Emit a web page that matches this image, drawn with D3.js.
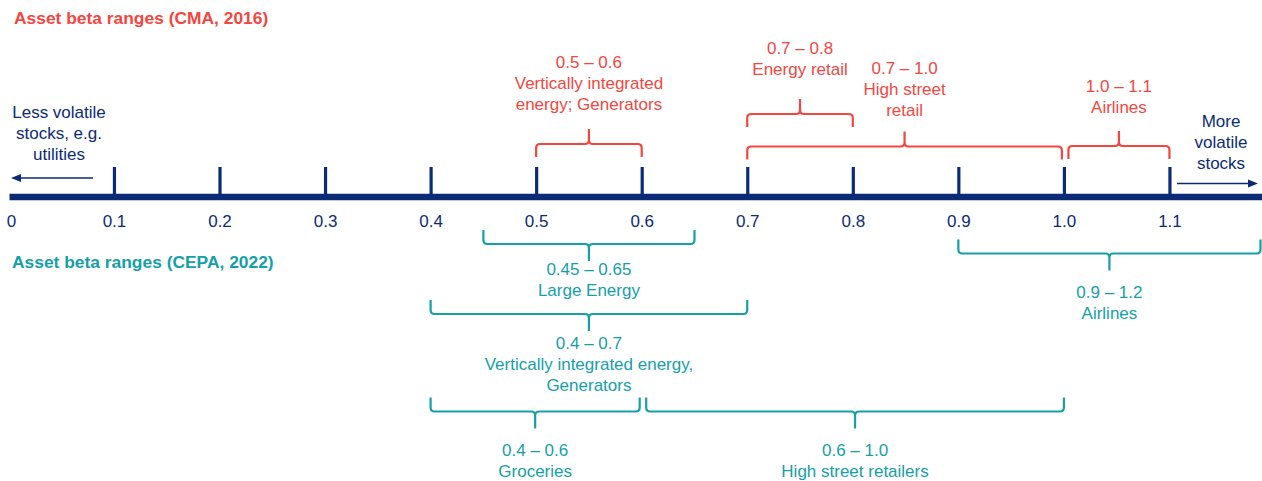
<!DOCTYPE html>
<html>
<head>
<meta charset="utf-8">
<script src="https://d3js.org/d3.v7.min.js"></script>
<style>
  body { margin: 0; background: #fff; }
  text { font-family: "Liberation Sans", Arial, sans-serif; }
</style>
</head>
<body>
<svg id="chart" width="1262" height="481"></svg>
<script>
// ---- data ----
var tickValues = [0, 0.1, 0.2, 0.3, 0.4, 0.5, 0.6, 0.7, 0.8, 0.9, 1.0, 1.1];

var cmaLow  = [0.5, 0.7, 0.7, 1.0];
var cmaHigh = [0.6, 0.8, 1.0, 1.1];
var cmaNames = [["Vertically integrated", "energy; Generators"], ["Energy retail"], ["High street", "retail"], ["Airlines"]];

var cepaLow  = [0.45, 0.4, 0.4, 0.6, 0.9];
var cepaHigh = [0.65, 0.7, 0.6, 1.0, 1.2];
var cepaNames = [["Large Energy"], ["Vertically integrated energy,", "Generators"], ["Groceries"], ["High street retailers"], ["Airlines"]];

// ---- layout (rows of the braces, px) ----
var cmaBraceY  = [144, 114, 146.5, 146];
var cmaTextY   = [62, 47.5, 67.5, 86];
var cepaBraceY = [244, 314, 411.5, 411.5, 253.5];
var cepaTextY  = [269, 342.5, 450, 450, 291.5];

var width = 1262, height = 481;
var axisY = 197;
var navy = "#0c2b77", red = "#f4463f", teal = "#15a0a8";
var fs = 17, lineH = 21;

var svg = d3.select("#chart");

var x = d3.scaleLinear().domain([0, 1]).range([8.4, 1063.9]);

var fmtRange = function(v) {
  return Math.round(v * 100) % 10 ? v.toFixed(2) : v.toFixed(1);
};

// titles
svg.append("text").attr("x", 14).attr("y", 24)
  .attr("fill", red).attr("font-size", 17.4).attr("font-weight", "bold")
  .text("Asset beta ranges (CMA, 2016)");
svg.append("text").attr("x", 12).attr("y", 268)
  .attr("fill", teal).attr("font-size", 17.4).attr("font-weight", "bold")
  .text("Asset beta ranges (CEPA, 2022)");

// main axis line
svg.append("line")
  .attr("x1", 9.5).attr("x2", width).attr("y1", axisY).attr("y2", axisY)
  .attr("stroke", navy).attr("stroke-width", 6.5);

// tick marks
var tickAxis = d3.axisTop(x)
  .tickValues(tickValues.filter(function(d){ return d > 0; }))
  .tickSize(29).tickFormat("");
var tg = svg.append("g").attr("transform", "translate(0," + (axisY - 1) + ")").call(tickAxis);
tg.select(".domain").remove();
tg.selectAll(".tick line").attr("stroke", navy).attr("stroke-width", 3.2);

// tick labels
var labelAxis = d3.axisBottom(x)
  .tickValues(tickValues).tickSize(0).tickPadding(18)
  .tickFormat(function(d){ return d === 0 ? "0" : d3.format(".1f")(d); });
var lg = svg.append("g").attr("transform", "translate(0," + axisY + ")").call(labelAxis);
lg.select(".domain").remove();
lg.attr("font-family", null).attr("font-size", null);
lg.selectAll("text").attr("fill", navy).attr("font-size", fs);
lg.select(".tick text").attr("dx", 2.5);

// volatility arrows + notes
function arrow(x1, x2, y) {
  var dir = x2 > x1 ? 1 : -1;
  svg.append("line").attr("x1", x1).attr("x2", x2 - dir * 6).attr("y1", y).attr("y2", y)
    .attr("stroke", navy).attr("stroke-width", 1.4);
  svg.append("path")
    .attr("d", "M" + x2 + "," + y + "L" + (x2 - dir * 10) + "," + (y - 4) + "L" + (x2 - dir * 10) + "," + (y + 4) + "Z")
    .attr("fill", navy);
}
arrow(93, 11, 178);
arrow(1177, 1258, 183.5);

function block(lines, cx, firstCenter, color) {
  var t = svg.append("text").attr("text-anchor", "middle").attr("fill", color).attr("font-size", fs);
  lines.forEach(function(s, i) {
    t.append("tspan").attr("x", cx).attr("y", firstCenter + i * lineH + 6).text(s);
  });
}
block(["Less volatile", "stocks, e.g.", "utilities"], 59, 112, navy);
block(["More", "volatile", "stocks"], 1221, 121, navy);

// braces
function brace(x0, x1, yH, s, endLen, tipLen, color) {
  var r = 4, xm = (x0 + x1) / 2;
  var d = "M" + x0 + "," + (yH + s * endLen) +
    "L" + x0 + "," + (yH + s * r) +
    "Q" + x0 + "," + yH + " " + (x0 + r) + "," + yH +
    "L" + (xm - r) + "," + yH +
    "Q" + xm + "," + yH + " " + xm + "," + (yH - s * r) +
    "L" + xm + "," + (yH - s * tipLen) +
    "M" + xm + "," + (yH - s * r) +
    "Q" + xm + "," + yH + " " + (xm + r) + "," + yH +
    "L" + (x1 - r) + "," + yH +
    "Q" + x1 + "," + yH + " " + x1 + "," + (yH + s * r) +
    "L" + x1 + "," + (yH + s * endLen);
  svg.append("path").attr("d", d).attr("fill", "none")
    .attr("stroke", color).attr("stroke-width", 2.2).attr("stroke-linejoin", "round");
  return xm;
}

function drawGroup(lo, hi, names, braceY, textY, s, endLen, tipLen, color) {
  lo.forEach(function(l, i) {
    var h = hi[i];
    var x0 = x(l), x1 = Math.min(x(h), width - 1.5);
    // leave a small gap where two braces in the same row meet
    lo.forEach(function(l2, j) {
      if (j !== i && Math.abs(braceY[j] - braceY[i]) < 5) {
        if (hi[j] === l) x0 += 4.5;
        if (l2 === h) x1 -= 2;
      }
    });
    var xm = brace(x0, x1, braceY[i], s, endLen, tipLen, color);
    block([fmtRange(l) + " \u2013 " + fmtRange(h)].concat(names[i]), xm, textY[i], color);
  });
}

drawGroup(cmaLow, cmaHigh, cmaNames, cmaBraceY, cmaTextY, 1, 13, 15, red);
drawGroup(cepaLow, cepaHigh, cepaNames, cepaBraceY, cepaTextY, -1, 14, 17, teal);
</script>
</body>
</html>
